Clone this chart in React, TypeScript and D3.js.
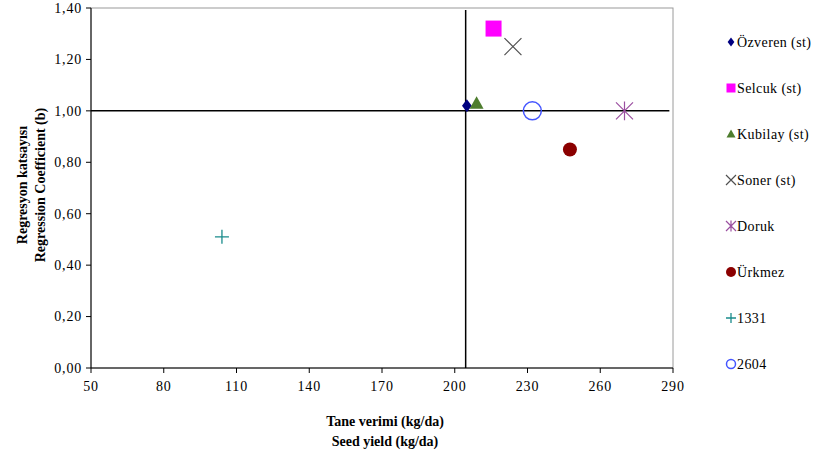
import React from "react";
import * as d3 from "d3";

const varieties = ["Özveren (st)", "Selcuk (st)", "Kubilay (st)", "Soner (st)", "Doruk", "Ürkmez", "1331", "2604"];
const seedYield = [205, 216, 209, 224, 270, 247.5, 104, 232];
const regCoef = [1.02, 1.32, 1.03, 1.25, 1.0, 0.85, 0.51, 1.0];
const xTicks = [50, 80, 110, 140, 170, 200, 230, 260, 290];
const yTicks = [0, 0.2, 0.4, 0.6, 0.8, 1.0, 1.2, 1.4];
const meanYield = 204.5;
const meanCoef = 1.0;

const markerKinds = ["diamond", "square", "triangle", "cross", "star", "dot", "plus", "ring"];
const markerColors = ["#000080", "#FF00FF", "#4E7D2E", "#505050", "#9B4FA0", "#8B0000", "#1A8C8C", "#4455FF"];

const W = 833;
const H = 460;
const M = { left: 91, right: 673, top: 8, bottom: 368 };
const FONT = "Liberation Serif, Times New Roman, serif";

function Marker({ kind, color, x, y, s }: { kind: string; color: string; x: number; y: number; s: number }) {
  const h = s / 2;
  switch (kind) {
    case "diamond":
      return <path d={`M${x},${y - h}L${x + h * 0.75},${y}L${x},${y + h}L${x - h * 0.75},${y}Z`} fill={color} />;
    case "square":
      return <rect x={x - h} y={y - h} width={s} height={s} fill={color} />;
    case "triangle":
      return <path d={`M${x},${y - h}L${x + h},${y + h * 0.8}L${x - h},${y + h * 0.8}Z`} fill={color} />;
    case "cross":
      return (
        <path d={`M${x - h},${y - h}L${x + h},${y + h}M${x + h},${y - h}L${x - h},${y + h}`} stroke={color} strokeWidth={1.2} fill="none" />
      );
    case "star":
      return (
        <path
          d={`M${x - h},${y - h}L${x + h},${y + h}M${x + h},${y - h}L${x - h},${y + h}M${x},${y - h * 1.1}L${x},${y + h * 1.1}`}
          stroke={color}
          strokeWidth={1.2}
          fill="none"
        />
      );
    case "dot":
      return <circle cx={x} cy={y} r={h} fill={color} />;
    case "plus":
      return <path d={`M${x - h},${y}L${x + h},${y}M${x},${y - h}L${x},${y + h}`} stroke={color} strokeWidth={1.3} fill="none" />;
    case "ring":
      return <circle cx={x} cy={y} r={h} fill="none" stroke={color} strokeWidth={1.5} />;
    default:
      return null;
  }
}

const plotSizes = [13, 16, 14, 17, 17, 14, 14, 18];
const legendSizes = [9, 9, 9, 10, 10, 10, 10, 9];

export default function App() {
  const x = d3.scaleLinear().domain([50, 290]).range([M.left, M.right]);
  const y = d3.scaleLinear().domain([0, 1.4]).range([M.bottom, M.top]);
  const fmtY = (v: number) => v.toFixed(2).replace(".", ",");
  const legendY = d3.scalePoint<number>().domain(d3.range(varieties.length)).range([42, 364]);
  const txt = { fontFamily: FONT };

  return (
    <svg width={W} height={H} style={{ position: "absolute", left: 0, top: 0, background: "#fff", fontFamily: FONT }}>
      {/* plot frame */}
      <rect x={M.left} y={M.top} width={M.right - M.left} height={M.bottom - M.top} fill="none" stroke="#9a9a9a" strokeWidth={1} />
      {/* axes */}
      <line x1={M.left} x2={M.left} y1={M.top} y2={M.bottom} stroke="#000" />
      <line x1={M.left} x2={M.right} y1={M.bottom} y2={M.bottom} stroke="#000" />
      {yTicks.map((t) => (
        <g key={"y" + t}>
          <line x1={M.left - 5} x2={M.left} y1={y(t)} y2={y(t)} stroke="#000" />
          <text x={M.left - 9} y={y(t)} dy="0.35em" textAnchor="end" fontSize={14} letterSpacing={0.8} style={txt}>
            {fmtY(t)}
          </text>
        </g>
      ))}
      {xTicks.map((t) => (
        <g key={"x" + t}>
          <line x1={x(t)} x2={x(t)} y1={M.bottom} y2={M.bottom + 5} stroke="#000" />
          <text x={x(t)} y={M.bottom + 23} textAnchor="middle" fontSize={14} letterSpacing={0.8} style={txt}>
            {t}
          </text>
        </g>
      ))}
      {/* mean reference lines */}
      <line x1={x(meanYield)} x2={x(meanYield)} y1={M.top + 2} y2={M.bottom} stroke="#000" strokeWidth={1.5} />
      <line x1={M.left} x2={x(288.5)} y1={y(meanCoef)} y2={y(meanCoef)} stroke="#000" strokeWidth={1.5} />
      {/* points */}
      {varieties.map((v, i) => (
        <Marker key={v} kind={markerKinds[i]} color={markerColors[i]} x={x(seedYield[i])} y={y(regCoef[i])} s={plotSizes[i]} />
      ))}
      {/* axis titles */}
      <text x={385} y={426} textAnchor="middle" fontSize={14} fontWeight="bold" style={txt}>
        Tane verimi (kg/da)
      </text>
      <text x={385} y={446} textAnchor="middle" fontSize={14} fontWeight="bold" style={txt}>
        Seed yield (kg/da)
      </text>
      <g transform="translate(22,185) rotate(-90)">
        <text x={0} y={0} textAnchor="middle" dy="0.35em" fontSize={14} fontWeight="bold" style={txt}>
          Regresyon katsayısı
        </text>
        <text x={0} y={18} textAnchor="middle" dy="0.35em" fontSize={14} fontWeight="bold" style={txt}>
          Regression Coefficient (b)
        </text>
      </g>
      {/* legend */}
      {varieties.map((v, i) => {
        const ly = legendY(i) as number;
        return (
          <g key={"l" + v}>
            <Marker kind={markerKinds[i]} color={markerColors[i]} x={731} y={ly} s={legendSizes[i]} />
            <text x={737} y={ly} dy="0.35em" fontSize={14} letterSpacing={0.4} style={txt}>
              {v}
            </text>
          </g>
        );
      })}
    </svg>
  );
}
